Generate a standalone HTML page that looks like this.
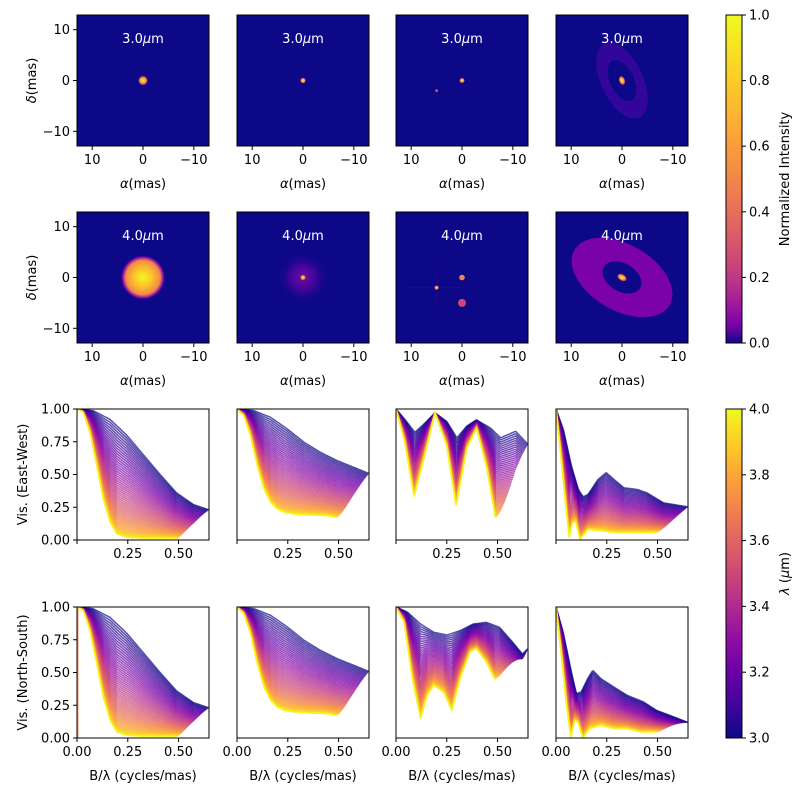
<!DOCTYPE html>
<html><head><meta charset="utf-8">
<style>
body{margin:0;background:#fff;}
svg{display:block;font-family:"DejaVu Sans","Liberation Sans",sans-serif;}
text{font-size:13px;fill:#000;}
</style></head>
<body>
<svg id="fig" width="800" height="800" viewBox="0 0 800 800" xmlns="http://www.w3.org/2000/svg">
<defs>
<radialGradient id="gBig"><stop offset="0" stop-color="#f0f921"/><stop offset="0.4" stop-color="#fdc328"/><stop offset="0.78" stop-color="#f08a4a"/><stop offset="0.86" stop-color="#c23e80"/><stop offset="0.95" stop-color="#6a00a8"/><stop offset="1" stop-color="#0d0887" stop-opacity="0"/></radialGradient>
<radialGradient id="gPt"><stop offset="0" stop-color="#f0f921"/><stop offset="0.5" stop-color="#fca636"/><stop offset="0.8" stop-color="#cc4778"/><stop offset="1" stop-color="#0d0887" stop-opacity="0"/></radialGradient>
<radialGradient id="gHalo"><stop offset="0" stop-color="#8f0da4"/><stop offset="0.5" stop-color="#4a03a0"/><stop offset="1" stop-color="#0d0887" stop-opacity="0"/></radialGradient>
<radialGradient id="gPink"><stop offset="0" stop-color="#e06464"/><stop offset="0.7" stop-color="#cc4778"/><stop offset="1" stop-color="#0d0887" stop-opacity="0"/></radialGradient>
<linearGradient id="cbTop" x1="0" y1="1" x2="0" y2="0"></linearGradient>
<linearGradient id="cbBot" x1="0" y1="1" x2="0" y2="0"></linearGradient>
</defs>
</svg>
<script>
// ---- data ----
const lamMin = 3.0, lamMax = 4.0, baseMax = 0.65;
const xTicksVis = [0, 0.25, 0.5];
const yTicksVis = [0, 0.25, 0.5, 0.75, 1.0];
const imgTicks = [10, 0, -10];
const cbTopTicks = [0.0, 0.2, 0.4, 0.6, 0.8, 1.0];
const cbBotTicks = [3.0, 3.2, 3.4, 3.6, 3.8, 4.0];
// visibility curves: [x, value] for lambda=3.0 (top) and lambda=4.0 (bottom)
const ew1Top = [[0,1],[.08,.987],[.163,.92],[.245,.8],[.327,.65],[.409,.5],[.49,.36],[.574,.27],[.651,.23]];
const ew1Bot = [[0,1],[.031,.975],[.064,.82],[.097,.57],[.13,.31],[.163,.135],[.196,.046],[.245,.02],[.327,.013],[.49,.013]];
const ew2Top = [[0,1],[.084,.987],[.166,.936],[.248,.847],[.33,.746],[.411,.669],[.493,.606],[.575,.555],[.646,.51]];
const ew2Bot = [[0,1],[.034,.95],[.067,.796],[.1,.567],[.133,.389],[.166,.287],[.198,.237],[.231,.211],[.28,.198],[.362,.19],[.444,.186],[.49,.173]];
const ew3Top = [[0,1],[.051,.906],[.093,.822],[.134,.88],[.192,.97],[.25,.905],[.3,.78],[.349,.87],[.396,.917],[.465,.855],[.515,.78],[.589,.83],[.656,.72]];
const ew3Bot = [[0,1],[.043,.75],[.089,.33],[.134,.6],[.192,.97],[.25,.72],[.296,.26],[.349,.7],[.397,.855],[.447,.55],[.49,.17]];
const ew4Top = [[0,1],[.037,.84],[.077,.56],[.11,.386],[.134,.33],[.158,.348],[.206,.46],[.247,.515],[.287,.46],[.335,.398],[.4,.386],[.448,.36],[.529,.284],[.645,.254]];
const ew4Bot = [[0,1],[.021,.69],[.045,.31],[.065,.018],[.081,.13],[.097,.145],[.118,.005],[.158,.08],[.223,.07],[.287,.056],[.352,.056],[.416,.056],[.449,.056],[.49,.056]];
const ns1Top = ew1Top, ns1Bot = ew1Bot, ns2Top = ew2Top, ns2Bot = ew2Bot;
const ns3Top = [[0,1],[.057,.96],[.121,.87],[.186,.807],[.251,.786],[.315,.819],[.38,.87],[.445,.883],[.51,.845],[.575,.73],[.623,.64],[.647,.68]];
const ns3Bot = [[0,1],[.04,.885],[.081,.45],[.121,.148],[.154,.326],[.186,.402],[.235,.35],[.275,.211],[.316,.453],[.364,.656],[.396,.682],[.445,.58],[.485,.453]];
const ns4Top = [[0,1],[.035,.809],[.076,.504],[.1,.338],[.124,.351],[.156,.453],[.181,.517],[.221,.453],[.285,.389],[.35,.326],[.431,.275],[.495,.211],[.56,.173],[.644,.122]];
const ns4Bot = [[0,1],[.027,.63],[.052,.25],[.073,0],[.092,.135],[.108,.122],[.132,0],[.165,.071],[.221,.097],[.285,.071],[.35,.071],[.415,.046],[.479,.046]];

// ---- layout ----
const NS = "http://www.w3.org/2000/svg";
const svg = document.getElementById('fig');
const colX = [77, 237, 396, 556];
const PW = 132, PH = 131;
const rowY = [15, 212, 409, 607];
const plasmaStops = ["#0d0887","#41049d","#6a00a8","#8f0da4","#b12a90","#cc4778","#e16462","#f2844b","#fca636","#fcce25","#f0f921"];
function hex(h){return [parseInt(h.slice(1,3),16),parseInt(h.slice(3,5),16),parseInt(h.slice(5,7),16)];}
function plasma(t){t=Math.max(0,Math.min(1,t));const f=t*10,i=Math.min(9,Math.floor(f)),r=f-i;const a=hex(plasmaStops[i]),b=hex(plasmaStops[i+1]);return `rgb(${a.map((v,k)=>Math.round(v+(b[k]-v)*r)).join(',')})`;}
function el(tag, attrs, parent){const e=document.createElementNS(NS,tag);for(const k in attrs)e.setAttribute(k,attrs[k]);(parent||svg).appendChild(e);return e;}
function txt(x,y,s,anchor,parent,extra){const t=el('text',Object.assign({x:x,y:y,'text-anchor':anchor||'middle'},extra||{}),parent);t.textContent=s;return t;}
function fmtMinus(v){return v<0?'\u2212'+Math.abs(v):''+v;}
function span(t,s,italic){const e=el('tspan',italic?{'font-style':'italic'}:{},t);e.textContent=s;return e;}

// colorbar gradients
const gt=document.getElementById('cbTop'), gb=document.getElementById('cbBot');
for(let i=0;i<=20;i++){const v=i/20;
  el('stop',{offset:v,'stop-color':plasma(Math.sqrt(v))},gt);
  el('stop',{offset:v,'stop-color':plasma(v)},gb);}

// ---- image panels ----
const ML = 5.08; // px per mas
const lamLabels = ['3.0','4.0'];
for(let r=0;r<2;r++){
  for(let c=0;c<4;c++){
    const x0=colX[c], y0=rowY[r], cx=x0+PW/2, cy=y0+PH/2;
    const g=el('g',{});
    
    
    const cid=`clipI${r}${c}`;
    const cp=el('clipPath',{id:cid},g); el('rect',{x:x0,y:y0,width:PW,height:PH},cp);
    el('rect',{x:x0,y:y0,width:PW,height:PH,fill:'#0d0887'},g);
    const inner=el('g',{'clip-path':`url(#${cid})`},g);
    if(c===0){
      if(r===0) el('circle',{cx:cx,cy:cy,r:5,fill:'url(#gPt)'},inner);
      else el('circle',{cx:cx,cy:cy,r:22,fill:'url(#gBig)'},inner);
    } else if(c===1){
      if(r===1) el('circle',{cx:cx,cy:cy,r:26,fill:'url(#gHalo)',opacity:0.8},inner);
      el('circle',{cx:cx,cy:cy,r:3,fill:'url(#gPt)'},inner);
    } else if(c===2){
      const sx=cx-5*ML, sy=cy+2*ML;
      if(r===0){
        el('circle',{cx:cx,cy:cy,r:2.8,fill:'url(#gPt)'},inner);
        el('circle',{cx:sx,cy:sy,r:1.8,fill:'url(#gPink)'},inner);
      } else {
        el('line',{x1:sx-28,y1:sy,x2:sx+28,y2:sy,stroke:'#2a0a95',"stroke-width":1,opacity:0.6},inner);
        el('line',{x1:sx,y1:sy-20,x2:sx,y2:sy+20,stroke:'#2a0a95',"stroke-width":1,opacity:0.6},inner);
        el('circle',{cx:cx,cy:cy,r:2.8,fill:'#f2844b'},inner);
        el('circle',{cx:sx,cy:sy,r:2.4,fill:'url(#gPt)'},inner);
        el('circle',{cx:cx,cy:cy+5*ML,r:4,fill:'#cc4778'},inner);
      }
    } else {
      if(r===0){
        el('ellipse',{cx:cx,cy:cy,rx:21,ry:41,fill:'#32069a',transform:`rotate(-25 ${cx} ${cy})`},inner);
        el('ellipse',{cx:cx,cy:cy,rx:12,ry:22,fill:'#0d0887',transform:`rotate(-25 ${cx} ${cy})`},inner);
        el('ellipse',{cx:cx,cy:cy,rx:3.2,ry:5,fill:'url(#gPt)',transform:`rotate(-20 ${cx} ${cy})`},inner);
      } else {
        el('ellipse',{cx:cx,cy:cy,rx:55,ry:33,fill:'#7a02a8',transform:`rotate(30 ${cx} ${cy})`},inner);
        el('ellipse',{cx:cx,cy:cy,rx:21,ry:14,fill:'#0d0887',transform:`rotate(30 ${cx} ${cy})`},inner);
        el('ellipse',{cx:cx,cy:cy,rx:5.5,ry:3.5,fill:'url(#gPt)',transform:`rotate(30 ${cx} ${cy})`},inner);
      }
    }
    el('rect',{x:x0,y:y0,width:PW,height:PH,fill:'none',stroke:'#000','stroke-width':1},g);
    const lab=el('text',{x:cx,y:y0+28,'text-anchor':'middle',style:'fill:#fff;font-size:13px'},g);
    span(lab,lamLabels[r]); span(lab,'\u03bc',true); span(lab,'m');
    
    
    imgTicks.forEach(v=>{const tx=cx-v*ML;
      el('line',{x1:tx,y1:y0+PH,x2:tx,y2:y0+PH+4,stroke:'#000'},g);
      txt(tx,y0+PH+18,fmtMinus(v),'middle',g);});
    const xl=el('text',{x:cx,y:y0+PH+42,'text-anchor':'middle'},g);
    span(xl,'\u03b1',true); span(xl,'(mas)');
    
    
    if(c===0){
      imgTicks.forEach(v=>{const ty=cy-v*ML;
        el('line',{x1:x0-4,y1:ty,x2:x0,y2:ty,stroke:'#000'},g);
        txt(x0-7,ty+4.5,fmtMinus(v),'end',g);});
      const yl=el('text',{x:0,y:0,'text-anchor':'middle',transform:`translate(36 ${cy}) rotate(-90)`},g);
      span(yl,'\u03b4',true); span(yl,'(mas)');
      
      
    }
  }
}

// ---- visibility panels ----
const visData = [[ew1Top,ew1Bot],[ew2Top,ew2Bot],[ew3Top,ew3Bot],[ew4Top,ew4Bot],[ns1Top,ns1Bot],[ns2Top,ns2Bot],[ns3Top,ns3Bot],[ns4Top,ns4Bot]];
function interp(arr,x){if(x<=arr[0][0])return arr[0][1];for(let i=1;i<arr.length;i++){if(x<=arr[i][0]){const a=arr[i-1],b=arr[i];return a[1]+(b[1]-a[1])*(x-a[0])/(b[0]-a[0]);}}return arr[arr.length-1][1];}
const NL = 60;
for(let r=0;r<2;r++){
  for(let c=0;c<4;c++){
    const x0=colX[c], y0=rowY[r+2];
    const sx=v=>x0+v/0.65*PW, sy=v=>y0+PH-v*PH;
    const [top,bot]=visData[r*4+c];
    const g=el('g',{});
    
    
    const cid=`clipV${r}${c}`;
    const cp=el('clipPath',{id:cid},g); el('rect',{x:x0,y:y0,width:PW,height:PH},cp);
    const inner=el('g',{'clip-path':`url(#${cid})`},g);
    if(r===1&&c===0){el('line',{x1:sx(0)+0.8,y1:sy(0),x2:sx(0)+0.8,y2:sy(1),stroke:'#f2844b','stroke-width':1.5,opacity:0.8},inner);}
    for(let i=0;i<NL;i++){
      const t=i/(NL-1), lam=lamMin+t*(lamMax-lamMin), xm=baseMax*lamMin/lam;
      const w=1-Math.pow(1-t,1.6);
      let d='';
      for(let k=0;k<=120;k++){const x=xm*k/120;const v=(1-w)*interp(top,x)+w*interp(bot,x);d+=(k?'L':'M')+sx(x).toFixed(2)+' '+sy(v).toFixed(2);}
      const p=el('path',{d:d,fill:'none',stroke:plasma(t),'stroke-width':1.5,opacity:0.7},inner);
      
      
    }
    el('rect',{x:x0,y:y0,width:PW,height:PH,fill:'none',stroke:'#000'},g);
    xTicksVis.forEach(v=>{const tx=sx(v);
      el('line',{x1:tx,y1:y0+PH,x2:tx,y2:y0+PH+4,stroke:'#000'},g);
      if(r===1||v>0) txt(tx,y0+PH+18,v.toFixed(2),'middle',g);});
    if(r===1){const xl=txt(x0+PW/2,y0+PH+42,'B/\u03bb (cycles/mas)','middle',g);
      
      }
    if(c===0){
      yTicksVis.forEach(v=>{const ty=sy(v);
        el('line',{x1:x0-4,y1:ty,x2:x0,y2:ty,stroke:'#000'},g);
        txt(x0-7,ty+4.5,v.toFixed(2),'end',g);});
      const yl=txt(0,0,r===0?'Vis. (East-West)':'Vis. (North-South)','middle',g,{transform:`translate(27 ${y0+PH/2}) rotate(-90)`});
      
      
    }
  }
}

// ---- colorbars ----
function colorbar(y0,h,grad,ticks,lo,hi,label,name){
  const g=el('g',{});
  
  
  el('rect',{x:726,y:y0,width:16,height:h,fill:`url(#${grad})`,stroke:'#000'},g);
  ticks.forEach(v=>{const ty=y0+h-(v-lo)/(hi-lo)*h;
    el('line',{x1:742,y1:ty,x2:746,y2:ty,stroke:'#000'},g);
    txt(749,ty+4.5,v.toFixed(1),'start',g);});
  const l=el('text',{x:0,y:0,'text-anchor':'middle',transform:`translate(789 ${y0+h/2}) rotate(-90)`},g);
  if(label==='lam'){span(l,'\u03bb',true);span(l,' (');span(l,'\u03bc',true);span(l,'m)');}
  else l.textContent=label;
  
  
}
colorbar(15,328,'cbTop',cbTopTicks,0,1,'Normalized Intensity','intensity-colorbar');
colorbar(409,329,'cbBot',cbBotTicks,3,4,'lam','wavelength-colorbar');
</script>
</body></html>
